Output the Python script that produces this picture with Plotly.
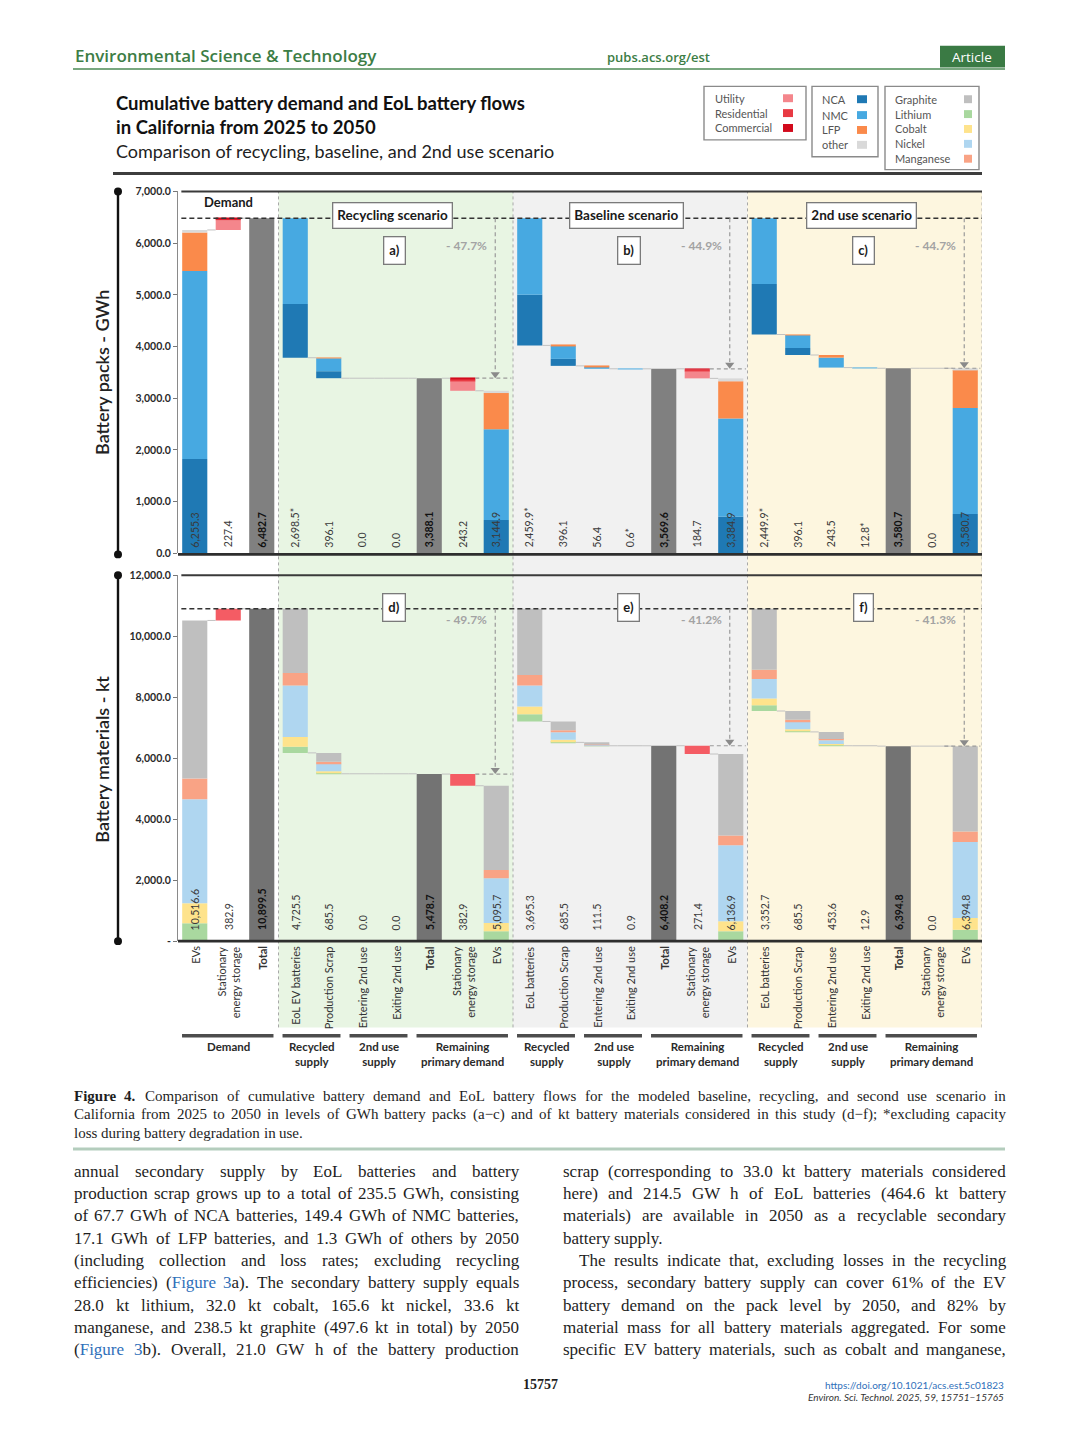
import plotly.graph_objects as go

W, H = 1080, 1440


def px(x):
    return x / W


def py(y):
    return 1 - y / H


# ------------------------------------------------------------------ data
categories = [
    "EVs", "Stationary<br>energy storage", "Total",
    "EoL EV batteries", "Production Scrap", "Entering 2nd use", "Exiting 2nd use",
    "Total", "Stationary<br>energy storage", "EVs",
    "EoL batteries", "Production Scrap", "Entering 2nd use", "Exiting 2nd use",
    "Total", "Stationary<br>energy storage", "EVs",
    "EoL batteries", "Production Scrap", "Entering 2nd use", "Exiting 2nd use",
    "Total", "Stationary<br>energy storage", "EVs",
]
flow_kind = ["abs", "up", "abs",
             "down", "down", "down", "down", "abs", "down", "abs",
             "down", "down", "down", "down", "abs", "down", "abs",
             "down", "down", "down", "down", "abs", "down", "abs"]
total_positions = [2, 7, 14, 21]
scenario_start = [3, 10, 17]
scenario_names = ["Recycling scenario", "Baseline scenario", "2nd use scenario"]
scenario_bg = ["#e8f5e3", "#f1f1f1", "#fdf6df"]
panel_top = ["a)", "b)", "c)"]
panel_bottom = ["d)", "e)", "f)"]
reduction_top = ["- 47.7%", "- 44.9%", "- 44.7%"]
reduction_bottom = ["- 49.7%", "- 41.2%", "- 41.3%"]

group_names = ["Demand",
               "Recycled<br>supply", "2nd use<br>supply", "Remaining<br>primary demand",
               "Recycled<br>supply", "2nd use<br>supply", "Remaining<br>primary demand",
               "Recycled<br>supply", "2nd use<br>supply", "Remaining<br>primary demand"]
group_first = [0, 3, 5, 7, 10, 12, 14, 17, 19, 21]
group_last = [2, 4, 6, 9, 11, 13, 16, 18, 20, 23]

# battery packs, GWh (segments per bar)
gwh_nca = [1824, 0, 0, 1040, 135, 0, 0, 0, 0, 645,
           979, 135, 0, 0, 0, 0, 708, 975, 135, 0, 0, 0, 0, 760]
gwh_nmc = [3637, 0, 0, 1658.5, 250, 0, 0, 0, 0, 1754,
           1480.9, 250, 41.4, 0.6, 0, 0, 1901, 1274.6, 250, 193.5, 12.8, 0, 0, 2054]
gwh_lfp = [747, 0, 0, 0, 11.1, 0, 0, 0, 0, 702,
           0, 11.1, 15, 0, 0, 0, 720, 0, 11.1, 50, 0, 0, 0, 733]
gwh_other = [47.3, 0, 0, 0, 0, 0, 0, 0, 0, 43.9,
             0, 0, 0, 0, 0, 0, 55.9, 0, 0, 0, 0, 0, 0, 33.7]
gwh_utility = [0, 185, 0, 0, 0, 0, 0, 0, 198, 0,
               0, 0, 0, 0, 0, 150, 0, 0, 0, 0, 0, 0, 0, 0]
gwh_residential = [0, 32, 0, 0, 0, 0, 0, 0, 35, 0,
                   0, 0, 0, 0, 0, 27, 0, 0, 0, 0, 0, 0, 0, 0]
gwh_commercial = [0, 10.4, 0, 0, 0, 0, 0, 0, 10.2, 0,
                  0, 0, 0, 0, 0, 7.7, 0, 0, 0, 0, 0, 0, 0, 0]
gwh_total = [0, 0, 6482.7, 0, 0, 0, 0, 3388.1, 0, 0,
             0, 0, 0, 0, 3569.6, 0, 0, 0, 0, 0, 0, 3580.7, 0, 0]
gwh_labels = ["6,255.3", "227.4", "6,482.7",
              "2,698.5*", "396.1", "0.0", "0.0", "3,388.1", "243.2", "3,144.9",
              "2,459.9*", "396.1", "56.4", "0.6*", "3,569.6", "184.7", "3,384.9",
              "2,449.9*", "396.1", "243.5", "12.8*", "3,580.7", "0.0", "3,580.7"]

# battery materials, kt (segments per bar)
kt_lithium = [590, 0, 0, 200, 35.5, 0, 0, 0, 0, 325,
              240, 35.5, 3.5, 0, 0, 0, 325, 190, 35.5, 23.6, 0, 0, 0, 377]
kt_cobalt = [650, 0, 0, 320, 50, 0, 0, 0, 0, 270,
             250, 50, 5, 0, 0, 0, 325, 220, 50, 30, 0, 0, 0, 382]
kt_nickel = [3410, 0, 0, 1690, 250, 0, 0, 0, 0, 1464,
             690, 250, 25, 0, 0, 0, 2492, 640, 250, 130, 0, 0, 0, 2493]
kt_manganese = [680, 0, 0, 410, 60, 0, 0, 0, 0, 271,
                345, 60, 8, 0, 0, 0, 325, 305, 60, 40, 0, 0, 0, 345]
kt_graphite = [5186.6, 0, 0, 2105.5, 290, 0, 0, 0, 0, 2765.7,
               2170.3, 290, 70, 0.9, 0, 0, 2669.9, 1997.7, 290, 230, 12.9, 0, 0, 2797.8]
kt_stationary = [0, 382.9, 0, 0, 0, 0, 0, 0, 382.9, 0,
                 0, 0, 0, 0, 0, 271.4, 0, 0, 0, 0, 0, 0, 0, 0]
kt_total = [0, 0, 10899.5, 0, 0, 0, 0, 5478.7, 0, 0,
            0, 0, 0, 0, 6408.2, 0, 0, 0, 0, 0, 0, 6394.8, 0, 0]
kt_labels = ["10,516.6", "382.9", "10,899.5",
             "4,725.5", "685.5", "0.0", "0.0", "5,478.7", "382.9", "5,095.7",
             "3,695.3", "685.5", "111.5", "0.9", "6,408.2", "271.4", "6,136.9",
             "3,352.7", "685.5", "453.6", "12.9", "6,394.8", "0.0", "6,394.8"]

gwh_ticks = [0, 1000, 2000, 3000, 4000, 5000, 6000, 7000]
gwh_ticktext = ["0.0", "1,000.0", "2,000.0", "3,000.0", "4,000.0", "5,000.0", "6,000.0", "7,000.0"]
kt_ticks = [0, 2000, 4000, 6000, 8000, 10000, 12000]
kt_ticktext = ["-", "2,000.0", "4,000.0", "6,000.0", "8,000.0", "10,000.0", "12,000.0"]

legend_stat = ["Utility", "Residential", "Commercial"]
legend_stat_colors = ["#f4868c", "#e83a43", "#d20a1c"]
legend_chem = ["NCA", "NMC", "LFP", "other"]
legend_chem_colors = ["#1f79b4", "#47a9e1", "#fa8a4b", "#d9d9d9"]
legend_mat = ["Graphite", "Lithium", "Cobalt", "Nickel", "Manganese"]
legend_mat_colors = ["#bfbfbf", "#a9d89f", "#fee38c", "#afd6f0", "#f9a385"]
stationary_kt_color = "#f45c64"
total_gwh_color = "#808080"
total_kt_color = "#737373"

header_journal = "Environmental Science & Technology"
header_url = "pubs.acs.org/est"
header_type = "Article"
title_lines = ["Cumulative battery demand and EoL battery flows", "in California from 2025 to 2050"]
subtitle = "Comparison of recycling, baseline, and 2nd use scenario"
caption_lines = [
    "Figure 4. Comparison of cumulative battery demand and EoL battery flows for the modeled baseline, recycling, and second use scenario in",
    "California from 2025 to 2050 in levels of GWh battery packs (a−c) and of kt battery materials considered in this study (d−f); *excluding capacity",
    "loss during battery degradation in use.",
]
body_left = [
    "annual secondary supply by EoL batteries and battery",
    "production scrap grows up to a total of 235.5 GWh, consisting",
    "of 67.7 GWh of NCA batteries, 149.4 GWh of NMC batteries,",
    "17.1 GWh of LFP batteries, and 1.3 GWh of others by 2050",
    "(including collection and loss rates; excluding recycling",
    "efficiencies) (Figure 3a). The secondary battery supply equals",
    "28.0 kt lithium, 32.0 kt cobalt, 165.6 kt nickel, 33.6 kt",
    "manganese, and 238.5 kt graphite (497.6 kt in total) by 2050",
    "(Figure 3b). Overall, 21.0 GW h of the battery production",
]
body_right = [
    "scrap (corresponding to 33.0 kt battery materials considered",
    "here) and 214.5 GW h of EoL batteries (464.6 kt battery",
    "materials) are available in 2050 as a recyclable secondary",
    "battery supply.",
    "The results indicate that, excluding losses in the recycling",
    "process, secondary battery supply can cover 61% of the EV",
    "battery demand on the pack level by 2050, and 82% by",
    "material mass for all battery materials aggregated. For some",
    "specific EV battery materials, such as cobalt and manganese,",
]
page_number = "15757"
doi_text = "https://doi.org/10.1021/acs.est.5c01823"
citation = "Environ. Sci. Technol. 2025, 59, 15751−15765"

# ------------------------------------------------------------------ helpers
n = len(categories)
fig = go.Figure()
ann = []
shp = []
LINK = "#2f6fba"


def add_ann(**kw):
    d = dict(showarrow=False)
    d.update(kw)
    ann.append(d)


def fnt(size, color="#333", family="Lato", weight=None):
    d = dict(size=size, color=color, family=family)
    if weight:
        d["weight"] = weight
    return d


def waterfall(series):
    sums = [sum(s[i] for s in series) for i in range(n)]
    base = [0.0] * n
    end = [0.0] * n
    level = 0.0
    demand_total = sums[2]
    for i in range(n):
        if i in scenario_start:
            level = demand_total
        k = flow_kind[i]
        if k == "abs":
            base[i] = 0.0
            level = sums[i]
        elif k == "up":
            base[i] = level
            level = level + sums[i]
        else:
            base[i] = level - sums[i]
            level = base[i]
        end[i] = level
    return sums, base, end


def add_panel(series, colors, yax):
    sums, base, end = waterfall(series)
    cum = list(base)
    for vals, col in zip(series, colors):
        xs, ys, bs = [], [], []
        for i in range(n):
            if vals[i] > 0:
                xs.append(i)
                ys.append(vals[i])
                bs.append(cum[i])
                cum[i] += vals[i]
        if xs:
            fig.add_trace(go.Bar(x=xs, y=ys, base=bs, width=0.75,
                                 marker=dict(color=col, line=dict(width=0)),
                                 xaxis="x", yaxis=yax, showlegend=False, hoverinfo="skip"))
    cx, cy = [], []
    for i in range(n - 1):
        if (i + 1) in scenario_start:
            continue
        cx += [i + 0.375, i + 1 - 0.375, None]
        cy += [end[i], end[i], None]
    for i in range(n):
        if sums[i] == 0:
            cx += [i - 0.375, i + 0.375, None]
            cy += [end[i], end[i], None]
    fig.add_trace(go.Scatter(x=cx, y=cy, mode="lines", line=dict(color="#c2c2c2", width=1),
                             xaxis="x", yaxis=yax, showlegend=False, hoverinfo="skip"))
    return sums, base, end


def add_flow_marks(sums, yax, reductions, label_shift, upp):
    yref = yax
    dem = sums[2]
    shp.append(dict(type="line", xref="x", yref=yref, x0=-0.4, x1=23.5, y0=dem, y1=dem,
                    line=dict(color="#333", width=1.6, dash="5px,3px")))
    tx, ty = [], []
    for k, st in enumerate(scenario_start):
        tot_i, stat_i, ev_i = st + 4, st + 5, st + 6
        tot = sums[tot_i]
        ax = ev_i - 0.03
        shp.append(dict(type="line", xref="x", yref=yref, x0=ax, x1=ax, y0=dem, y1=tot + 7 * upp,
                        line=dict(color="#9a9a9a", width=1.2, dash="4px,3px")))
        shp.append(dict(type="line", xref="x", yref=yref, x0=stat_i + 0.375, x1=ev_i + 0.45,
                        y0=tot, y1=tot, line=dict(color="#9a9a9a", width=1.2, dash="4px,3px")))
        tx.append(ax)
        ty.append(tot + 4 * upp)
        add_ann(text="<b>" + reductions[k] + "</b>", x=ax - 0.18, y=dem, xref="x", yref=yref,
                xanchor="right", yanchor="middle", yshift=label_shift,
                font=fnt(12, "#a3a3a3"))
    fig.add_trace(go.Scatter(x=tx, y=ty, mode="markers",
                             marker=dict(symbol="triangle-down", size=8, color="#8a8a8a"),
                             xaxis="x", yaxis=yax, showlegend=False, hoverinfo="skip"))


# ------------------------------------------------------------------ backgrounds
Y_TOP, Y_BOT = 187, 1030
for k, st in enumerate(scenario_start):
    shp.append(dict(type="rect", xref="x", yref="paper", x0=st - 0.5, x1=st + 6.5,
                    y0=py(Y_BOT), y1=py(Y_TOP), fillcolor=scenario_bg[k],
                    line=dict(width=0), layer="below"))
for xb in [2.5, 9.5, 16.5, 23.5]:
    shp.append(dict(type="line", xref="x", yref="paper", x0=xb, x1=xb, y0=py(Y_BOT), y1=py(Y_TOP),
                    line=dict(color="#a8a8a8", width=1, dash="dot"), layer="below"))

# ------------------------------------------------------------------ bars
gwh_series = [gwh_nca, gwh_nmc, gwh_lfp, gwh_other, gwh_utility, gwh_residential, gwh_commercial, gwh_total]
gwh_colors = legend_chem_colors + legend_stat_colors + [total_gwh_color]
kt_series = [kt_lithium, kt_cobalt, kt_nickel, kt_manganese, kt_graphite, kt_stationary, kt_total]
kt_colors = [legend_mat_colors[1], legend_mat_colors[2], legend_mat_colors[3], legend_mat_colors[4],
             legend_mat_colors[0], stationary_kt_color, total_kt_color]

TOP_Y0, TOP_Y1 = 552, 187
BOT_Y0, BOT_Y1 = 943, 574
upp_top = (gwh_ticks[-1] - gwh_ticks[0]) / (TOP_Y0 - TOP_Y1)
upp_bot = (kt_ticks[-1] - kt_ticks[0]) / (BOT_Y0 - BOT_Y1)

gs, gb, ge = add_panel(gwh_series, gwh_colors, "y")
ks, kb, ke = add_panel(kt_series, kt_colors, "y2")
add_flow_marks(gs, "y", reduction_top, -27, upp_top)
add_flow_marks(ks, "y2", reduction_bottom, -11, upp_bot)

# frame lines
for ytop, ybot in [(TOP_Y1, TOP_Y0 + 1), (BOT_Y1, BOT_Y0)]:
    shp.append(dict(type="line", xref="x", yref="paper", x0=-0.4, x1=23.5, y0=py(ytop), y1=py(ytop),
                    line=dict(color="#3a3a3a", width=2)))
    shp.append(dict(type="line", xref="paper", yref="paper", x0=px(178), x1=px(982), y0=py(ybot), y1=py(ybot),
                    line=dict(color="#2e2e2e", width=2.6)))
    shp.append(dict(type="line", xref="paper", yref="paper", x0=px(118), x1=px(118), y0=py(ytop), y1=py(ybot),
                    line=dict(color="#111", width=2.4)))
    for yy in (ytop, ybot):
        shp.append(dict(type="circle", xref="paper", yref="paper", x0=px(114), x1=px(122),
                        y0=py(yy + 4), y1=py(yy - 4), fillcolor="#111", line=dict(width=0)))

# scenario boxes and panel letters
dem_gwh = gs[2]
dem_kt = ks[2]
for k, st in enumerate(scenario_start):
    cxk = st + 3
    add_ann(text="<b>" + scenario_names[k] + "</b>", x=cxk - 0.1, y=dem_gwh, xref="x", yref="y",
            xanchor="center", yanchor="middle", yshift=2.5, bgcolor="white", bordercolor="#7a7a7a",
            borderwidth=1.3, borderpad=4, font=fnt(13.5, "#1a1a1a"))
    add_ann(text="<b>" + panel_top[k] + "</b>", x=cxk - 0.05, y=dem_gwh, xref="x", yref="y",
            xanchor="center", yanchor="middle", yshift=-32, bgcolor="white", bordercolor="#7a7a7a",
            borderwidth=1.3, borderpad=5, font=fnt(13, "#1a1a1a"))
    add_ann(text="<b>" + panel_bottom[k] + "</b>", x=cxk - 0.05, y=dem_kt, xref="x", yref="y2",
            xanchor="center", yanchor="middle", yshift=1, bgcolor="white", bordercolor="#7a7a7a",
            borderwidth=1.3, borderpad=5, font=fnt(13, "#1a1a1a"))
add_ann(text="<b>Demand</b>", x=1, y=py(198), xref="x", yref="paper", xanchor="center",
        yanchor="middle", font=fnt(13, "#1a1a1a"))

# value labels inside bars
for i in range(n):
    is_tot = i in total_positions
    for labels, yref, shift in [(gwh_labels, "y", 5), (kt_labels, "y2", 10)]:
        t = labels[i]
        add_ann(text=("<b>" + t + "</b>") if is_tot else t, x=i, y=0, xref="x", yref=yref,
                xanchor="center", yanchor="bottom", yshift=shift, textangle=-90, borderpad=0,
                font=fnt(10.5, "#111" if is_tot else "#3a3a3a"))

# category labels
for i in range(n):
    t = categories[i]
    if i in total_positions:
        t = "<b>" + t + "</b>"
    add_ann(text=t, x=i, y=py(947), xref="x", yref="paper", xanchor="center", yanchor="top",
            textangle=-90, align="right", borderpad=0, font=fnt(11, "#333"))

# group underline bars and labels
for g in range(len(group_names)):
    a, b = group_first[g], group_last[g]
    shp.append(dict(type="line", xref="x", yref="paper", x0=a - 0.38, x1=b + 0.35,
                    y0=py(1038.5), y1=py(1038.5), line=dict(color="#4d4d4d", width=3.5)))
    add_ann(text="<b>" + group_names[g] + "</b>", x=(a + b) / 2, y=py(1042), xref="x", yref="paper",
            xanchor="center", yanchor="top", align="center", borderpad=0, font=fnt(11.5, "#2a2a2a"))

# axis titles
add_ann(text="Battery packs - GWh", x=px(102), y=py(370), xref="paper", yref="paper", textangle=-90,
        xanchor="center", yanchor="middle", font=fnt(18, "#222", weight=600))
add_ann(text="Battery materials - kt", x=px(102), y=py(760), xref="paper", yref="paper", textangle=-90,
        xanchor="center", yanchor="middle", font=fnt(18, "#222", weight=600))

# ------------------------------------------------------------------ chart title and legends
add_ann(text="<b>" + title_lines[0] + "</b>", x=px(114), y=py(98), xref="paper", yref="paper",
        xanchor="left", yanchor="middle", font=fnt(18.5, "#111"))
add_ann(text="<b>" + title_lines[1] + "</b>", x=px(114), y=py(122), xref="paper", yref="paper",
        xanchor="left", yanchor="middle", font=fnt(18.5, "#111"))
add_ann(text=subtitle, x=px(114), y=py(146), xref="paper", yref="paper",
        xanchor="left", yanchor="middle", font=fnt(18, "#222"))
shp.append(dict(type="line", xref="paper", yref="paper", x0=px(113), x1=px(982), y0=py(169), y1=py(169),
                line=dict(color="#3d3d3d", width=3)))


def legend_box(names, colors, x0, x1, y0, y1, tx, sx, sw, rows):
    shp.append(dict(type="rect", xref="paper", yref="paper", x0=px(x0), x1=px(x1), y0=py(y1), y1=py(y0),
                    line=dict(color="#8a8a8a", width=1.4), fillcolor="white"))
    for nm, col, yy in zip(names, colors, rows):
        add_ann(text=nm, x=px(tx), y=py(yy), xref="paper", yref="paper", xanchor="left",
                yanchor="middle", borderpad=0, font=fnt(11, "#555"))
        shp.append(dict(type="rect", xref="paper", yref="paper", x0=px(sx), x1=px(sx + sw),
                        y0=py(yy + 4), y1=py(yy - 4), fillcolor=col, line=dict(width=0)))


legend_box(legend_stat, legend_stat_colors, 704, 806, 81, 135, 714, 783, 10, [93, 108, 123])
legend_box(legend_chem, legend_chem_colors, 812, 878, 81, 152, 821, 857, 10, [94, 110, 125, 140])
legend_box(legend_mat, legend_mat_colors, 885, 979, 81, 165, 894, 964, 8, [94, 109, 124, 139, 154])

# ------------------------------------------------------------------ page header
GREEN = "#3c7d45"
add_ann(text=header_journal, x=px(73), y=py(50), xref="paper", yref="paper", xanchor="left",
        yanchor="middle", font=fnt(17, GREEN, "Open Sans", 600))
add_ann(text=header_url, x=px(658), y=py(51), xref="paper", yref="paper", xanchor="center",
        yanchor="middle", font=fnt(13, GREEN, "Open Sans", 600))
shp.append(dict(type="rect", xref="paper", yref="paper", x0=px(940), x1=px(1005), y0=py(62), y1=py(40),
                fillcolor="#3a7a44", line=dict(width=0)))
add_ann(text=header_type, x=px(972.5), y=py(51), xref="paper", yref="paper", xanchor="center",
        yanchor="middle", font=fnt(13.5, "white", "Open Sans"))
shp.append(dict(type="line", xref="paper", yref="paper", x0=px(73), x1=px(1005), y0=py(63.5), y1=py(63.5),
                line=dict(color="#4b8a55", width=1.6)))

# ------------------------------------------------------------------ caption and body (justified serif text)
TW = {' ': 250, '!': 333, '%': 833, '&': 778, "'": 333, '(': 333, ')': 333, '*': 500, '+': 564,
      ',': 250, '-': 333, '.': 250, '/': 278, ':': 278, ';': 278, '?': 444, '−': 564, '–': 500}
for d in "0123456789":
    TW[d] = 500
TW.update({'A': 722, 'B': 667, 'C': 667, 'D': 722, 'E': 611, 'F': 556, 'G': 722, 'H': 722, 'I': 333,
           'J': 389, 'K': 722, 'L': 611, 'M': 889, 'N': 722, 'O': 722, 'P': 556, 'Q': 722, 'R': 667,
           'S': 556, 'T': 611, 'U': 722, 'V': 722, 'W': 944, 'X': 722, 'Y': 722, 'Z': 611,
           'a': 444, 'b': 500, 'c': 444, 'd': 500, 'e': 444, 'f': 333, 'g': 500, 'h': 500, 'i': 278,
           'j': 278, 'k': 500, 'l': 278, 'm': 778, 'n': 500, 'o': 500, 'p': 500, 'q': 500, 'r': 333,
           's': 389, 't': 278, 'u': 500, 'v': 500, 'w': 722, 'x': 500, 'y': 500, 'z': 444})
LINKED = {"(Figure": "(<span style='color:%s'>Figure</span>" % LINK,
          "3a).": "<span style='color:%s'>3</span>a)." % LINK,
          "3b).": "<span style='color:%s'>3</span>b)." % LINK}
SERIF = "Liberation Serif"


def place_line(text, x0, x1, yc, size, justify, bold_words=0, color="#1e1e1e"):
    words = text.split(" ")
    widths = []
    for j, w in enumerate(words):
        wd = sum(TW.get(ch, 500) for ch in w) / 1000.0 * size
        if j < bold_words:
            wd *= 1.07
        widths.append(wd)
    if justify and len(words) > 1:
        gap = (x1 - x0 - sum(widths)) / (len(words) - 1)
    else:
        gap = 0.25 * size
    x = x0
    for j, (w, wd) in enumerate(zip(words, widths)):
        t = LINKED.get(w, w)
        if j < bold_words:
            t = "<b>" + t + "</b>"
        add_ann(text=t, x=px(x), y=py(yc), xref="paper", yref="paper", xanchor="left",
                yanchor="middle", borderpad=0, font=fnt(size, color, SERIF))
        x += wd + gap


cap_y = [1099, 1117.5, 1136]
for j, line in enumerate(caption_lines):
    place_line(line, 73, 1005, cap_y[j], 15, j < len(caption_lines) - 1, bold_words=2 if j == 0 else 0)
shp.append(dict(type="line", xref="paper", yref="paper", x0=px(73), x1=px(1005), y0=py(1152.5), y1=py(1152.5),
                line=dict(color="#b4cdbd", width=3)))

body_y = [1175, 1197.5, 1220, 1242.5, 1265, 1287.5, 1310, 1332.5, 1355]
for j, line in enumerate(body_left):
    place_line(line, 73, 518, body_y[j], 17, True)
right_justify = [True, True, True, False, True, True, True, True, True]
for j, line in enumerate(body_right):
    x0 = 578 if j == 4 else 562
    place_line(line, x0, 1005, body_y[j], 17, right_justify[j])

add_ann(text="<b>" + page_number + "</b>", x=px(540), y=py(1390), xref="paper", yref="paper",
        xanchor="center", yanchor="middle", font=fnt(14, "#1e1e1e", SERIF))
add_ann(text=doi_text, x=px(1005), y=py(1390.5), xref="paper", yref="paper", xanchor="right",
        yanchor="middle", borderpad=0, font=fnt(10, LINK))
add_ann(text="<i>" + citation + "</i>", x=px(1005), y=py(1403), xref="paper", yref="paper",
        xanchor="right", yanchor="middle", borderpad=0, font=fnt(10, "#333"))

# ------------------------------------------------------------------ layout
fig.update_layout(
    width=W, height=H, margin=dict(l=0, r=0, t=0, b=0),
    paper_bgcolor="white", plot_bgcolor="rgba(0,0,0,0)",
    barmode="overlay", showlegend=False,
    font=dict(family="Lato", color="#333"),
    xaxis=dict(domain=[px(178), px(982)], range=[-0.5, 23.5], showticklabels=False, showgrid=False,
               zeroline=False, showline=False, ticks="", anchor="y2", fixedrange=True),
    yaxis=dict(domain=[py(TOP_Y0), py(TOP_Y1)], range=[gwh_ticks[0], gwh_ticks[-1]], anchor="x",
               tickmode="array", tickvals=gwh_ticks, ticktext=gwh_ticktext, ticks="outside", ticklen=4,
               tickcolor="#777", showline=True, linecolor="#8a8a8a", linewidth=1, showgrid=False,
               zeroline=False, tickfont=dict(family="Lato", size=10.5, color="#2a2a2a", weight="bold")),
    yaxis2=dict(domain=[py(BOT_Y0), py(BOT_Y1)], range=[kt_ticks[0], kt_ticks[-1]], anchor="x",
                tickmode="array", tickvals=kt_ticks, ticktext=kt_ticktext, ticks="outside", ticklen=4,
                tickcolor="#777", showline=True, linecolor="#8a8a8a", linewidth=1, showgrid=False,
                zeroline=False, tickfont=dict(family="Lato", size=10.5, color="#2a2a2a", weight="bold")),
    annotations=ann,
    shapes=shp,
)

fig.write_html("out.html", config={"displayModeBar": False},
               post_script="document.body.style.margin='0';document.body.style.overflow='hidden';")
